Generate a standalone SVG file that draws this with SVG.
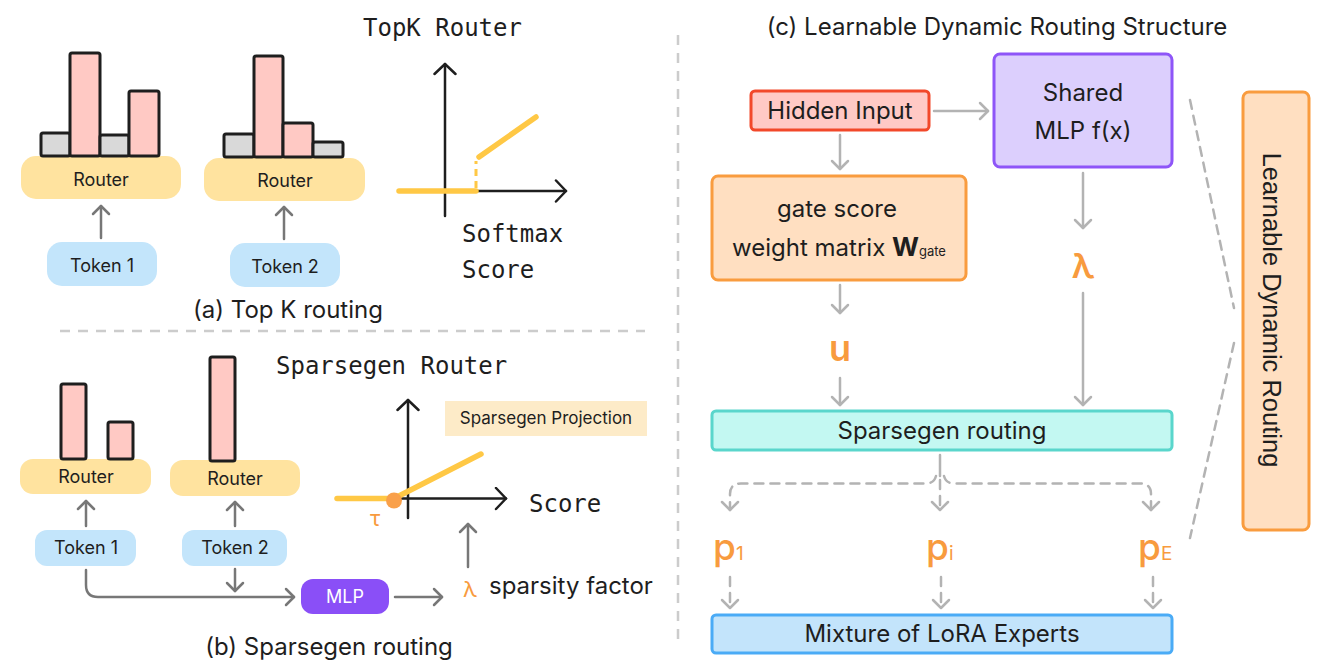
<svg xmlns="http://www.w3.org/2000/svg" width="1329" height="669" viewBox="0 0 1329 669">
<defs>
<style>
text{font-family:Inter,"Noto Sans",sans-serif;fill:#1e1e1e}
.mono{font-family:"DejaVu Sans Mono","Liberation Mono",monospace;font-size:24px}
.lbl{font-size:18px;text-anchor:middle}
.big{font-size:24px;text-anchor:middle}
.or{fill:#F89B3E;font-weight:600}
.router{fill:#FFE39F}
.token{fill:#C3E5FB}
.pink{fill:#FFC9C4;stroke:#1e1e1e;stroke-width:3}
.gray{fill:#D9D9D9;stroke:#1e1e1e;stroke-width:3}
.ag{fill:none;stroke:#777;stroke-width:2.5;stroke-linecap:round}
.al{fill:none;stroke:#B3B3B3;stroke-width:2.5;stroke-linecap:round}
.ax{fill:none;stroke:#1e1e1e;stroke-width:2.5;stroke-linecap:round}
.yl{fill:none;stroke:#FFC845;stroke-width:5.5;stroke-linecap:round}
.sep{fill:none;stroke:#CCCCCC;stroke-width:2.5;stroke-dasharray:10 8}
.dsh{stroke-dasharray:9 7}
</style>
<marker id="mg" viewBox="0 0 20 20" refX="10" refY="10" markerWidth="20" markerHeight="20" markerUnits="userSpaceOnUse" orient="auto"><path d="M2,2 L10,10 L2,18" fill="none" stroke="#777" stroke-width="2.5" stroke-linecap="round" stroke-linejoin="round"/></marker>
<marker id="ml" viewBox="0 0 20 20" refX="10" refY="10" markerWidth="20" markerHeight="20" markerUnits="userSpaceOnUse" orient="auto"><path d="M2,2 L10,10 L2,18" fill="none" stroke="#B3B3B3" stroke-width="2.5" stroke-linecap="round" stroke-linejoin="round"/></marker>
<marker id="mk" viewBox="0 0 24 24" refX="12" refY="12" markerWidth="24" markerHeight="24" markerUnits="userSpaceOnUse" orient="auto"><path d="M2,1.5 L12,12 L2,22.5" fill="none" stroke="#1e1e1e" stroke-width="2.5" stroke-linecap="round" stroke-linejoin="round"/></marker>
</defs>
<rect width="1329" height="669" fill="#ffffff"/>

<!-- separators -->
<g id="separators">
<line class="sep" x1="60" y1="331" x2="645" y2="331"/>
<line class="sep" x1="678" y1="35" x2="678" y2="640"/>
</g>

<!-- Panel (a) -->
<g id="a-router1">
<rect class="router" x="21" y="156" width="160" height="43" rx="15"/>
<rect class="gray" x="41" y="133" width="29" height="23" rx="2"/>
<rect class="pink" x="70" y="53" width="30" height="103" rx="2"/>
<rect class="gray" x="100" y="135" width="29" height="21" rx="2"/>
<rect class="pink" x="129" y="91" width="30" height="65" rx="2"/>
<text class="lbl" x="101" y="186">Router</text>
</g>
<g id="a-token1">
<rect class="token" x="47" y="242" width="110" height="44" rx="15"/>
<text class="lbl" x="102" y="272">Token 1</text>
</g>
<g id="a-router2">
<rect class="router" x="204" y="158" width="161" height="43" rx="15"/>
<rect class="gray" x="224" y="134" width="30" height="23" rx="2"/>
<rect class="pink" x="254" y="56" width="29" height="101" rx="2"/>
<rect class="pink" x="283" y="123" width="30" height="34" rx="2"/>
<rect class="gray" x="313" y="142" width="30" height="15" rx="2"/>
<text class="lbl" x="285" y="187">Router</text>
</g>
<g id="a-token2">
<rect class="token" x="230" y="243" width="110" height="44" rx="15"/>
<text class="lbl" x="285" y="273">Token 2</text>
</g>
<g id="a-chart">
<line class="ax" x1="445" y1="216" x2="445" y2="64" marker-end="url(#mk)"/>
<line class="ax" x1="445" y1="191" x2="566" y2="191" marker-end="url(#mk)"/>
<line class="yl" x1="399" y1="191" x2="476" y2="191"/>
<line x1="476" y1="188" x2="476" y2="161" stroke="#FFC845" stroke-width="3" stroke-dasharray="7 5"/>
<line class="yl" x1="479" y1="157" x2="536" y2="117"/>
<text class="mono" x="363" y="36">TopK Router</text>
<text class="mono" x="462" y="242">Softmax</text>
<text class="mono" x="462" y="278">Score</text>
</g>
<text id="a-caption" class="big" x="288" y="318">(a) Top K routing</text>

<!-- Panel (b) -->
<g id="b-router1">
<rect class="router" x="20" y="459" width="131" height="35" rx="13"/>
<rect class="pink" x="61" y="384" width="25" height="75" rx="2"/>
<rect class="pink" x="108" y="422" width="25" height="37" rx="2"/>
<text class="lbl" x="86" y="483">Router</text>
</g>
<g id="b-token1">
<rect class="token" x="35" y="530" width="101" height="36" rx="12"/>
<text class="lbl" x="86" y="554">Token 1</text>
</g>
<g id="b-router2">
<rect class="router" x="170" y="460" width="130" height="36" rx="13"/>
<rect class="pink" x="210" y="357" width="25" height="104" rx="2"/>
<text class="lbl" x="235" y="485">Router</text>
</g>
<g id="b-token2">
<rect class="token" x="182" y="530" width="105" height="36" rx="12"/>
<text class="lbl" x="235" y="554">Token 2</text>
</g>
<g id="b-mlp">
<rect x="301" y="579" width="88" height="35" rx="12" fill="#8A4FF7"/>
<text class="lbl" x="345" y="603" style="fill:#ffffff">MLP</text>
</g>
<g id="b-chart">
<line class="ax" x1="408" y1="518" x2="408" y2="400" marker-end="url(#mk)"/>
<line class="ax" x1="392" y1="498.5" x2="506" y2="498.5" marker-end="url(#mk)"/>
<line class="yl" x1="337" y1="498.5" x2="393" y2="498.5"/>
<line class="yl" x1="394" y1="498.5" x2="481" y2="454"/>
<circle cx="394" cy="500.5" r="8" fill="#F9A04A"/>
<text x="375" y="526" style="font-size:22px;text-anchor:middle;fill:#F89B3E">τ</text>
<text class="mono" x="276" y="374">Sparsegen Router</text>
<text class="mono" x="529" y="512">Score</text>
</g>
<g id="b-projection">
<rect x="445" y="401" width="202" height="35" fill="#FDEBC8"/>
<text x="546" y="424" style="font-size:17px;text-anchor:middle">Sparsegen Projection</text>
</g>
<g id="b-lambda">
<text x="470" y="597" style="font-size:22px;text-anchor:middle;fill:#F89B3E">λ</text>
<text x="489" y="594" style="font-size:24px">sparsity factor</text>
</g>
<text id="b-caption" class="big" x="329" y="655">(b) Sparsegen routing</text>

<!-- Panel (c) -->
<text id="c-title" class="big" x="997" y="35">(c) Learnable Dynamic Routing Structure</text>
<g id="c-hidden">
<rect x="751" y="91" width="178" height="39" rx="4" fill="#FFC9C5" stroke="#F2482A" stroke-width="3"/>
<text class="big" x="840" y="119">Hidden Input</text>
</g>
<g id="c-shared">
<rect x="994" y="54" width="178" height="113" rx="6" fill="#DCCFFD" stroke="#8E55F8" stroke-width="3"/>
<text class="big" x="1083" y="101">Shared</text>
<text class="big" x="1083" y="139">MLP f(x)</text>
</g>
<g id="c-gate">
<rect x="712" y="176" width="254" height="104" rx="6" fill="#FFDFC1" stroke="#F99C3F" stroke-width="3"/>
<text class="big" x="837" y="217">gate score</text>
<text class="big" x="839" y="256">weight matrix <tspan style="font-weight:700;font-size:26px">W</tspan><tspan style="font-size:13px">gate</tspan></text>
</g>
<text id="c-u" class="or" x="840" y="361" style="font-size:36px;text-anchor:middle">u</text>
<text id="c-lambda" class="or" x="1083" y="278" style="font-size:34px;text-anchor:middle">λ</text>
<g id="c-sparsegen">
<rect x="712" y="411" width="460" height="39" rx="4" fill="#C3F8F2" stroke="#5AD6CC" stroke-width="3"/>
<text class="big" x="942" y="439">Sparsegen routing</text>
</g>
<g id="c-p">
<text class="or" x="713" y="560" style="font-size:37px;font-weight:500">p<tspan style="font-size:19px;font-weight:400">1</tspan></text>
<text class="or" x="926" y="560" style="font-size:37px;font-weight:500">p<tspan style="font-size:19px;font-weight:400">i</tspan></text>
<text class="or" x="1138" y="560" style="font-size:37px;font-weight:500">p<tspan style="font-size:19px;font-weight:400">E</tspan></text>
</g>
<g id="c-mixture">
<rect x="712" y="615" width="460" height="38" rx="4" fill="#C3E4FB" stroke="#4AABF6" stroke-width="3"/>
<text class="big" x="942" y="642">Mixture of LoRA Experts</text>
</g>
<g id="c-learnable">
<rect x="1243" y="92" width="66" height="438" rx="6" fill="#FFDFC1" stroke="#F99C3F" stroke-width="3"/>
<text transform="translate(1263,310) rotate(90)" style="font-family:'Liberation Sans',Arial,sans-serif;font-size:25.5px;text-anchor:middle">Learnable Dynamic Routing</text>
</g>

<!-- connectors -->
<g id="connectors">
<line class="ag" x1="101" y1="238" x2="101" y2="206" marker-end="url(#mg)"/>
<line class="ag" x1="284" y1="239" x2="284" y2="207" marker-end="url(#mg)"/>
<line class="ag" x1="86" y1="526" x2="86" y2="501" marker-end="url(#mg)"/>
<line class="ag" x1="235" y1="526" x2="235" y2="502" marker-end="url(#mg)"/>
<line class="ag" x1="235" y1="569" x2="235" y2="591" marker-end="url(#mg)"/>
<path class="ag" d="M86,570 L86,585 Q86,597 98,597 L294,597" marker-end="url(#mg)"/>
<line class="ag" x1="395" y1="597" x2="442" y2="597" marker-end="url(#mg)"/>
<line class="ag" x1="468" y1="567" x2="468" y2="524" marker-end="url(#mg)"/>

<line class="al" x1="934" y1="111" x2="988" y2="111" marker-end="url(#ml)"/>
<line class="al" x1="840" y1="135" x2="840" y2="169" marker-end="url(#ml)"/>
<line class="al" x1="840" y1="285" x2="840" y2="313" marker-end="url(#ml)"/>
<line class="al" x1="840" y1="378" x2="840" y2="405" marker-end="url(#ml)"/>
<line class="al" x1="1083" y1="173" x2="1083" y2="228" marker-end="url(#ml)"/>
<line class="al" x1="1083" y1="293" x2="1083" y2="405" marker-end="url(#ml)"/>

<line class="al" x1="940" y1="455" x2="940" y2="476"/>
<line class="al dsh" x1="940" y1="480" x2="940" y2="510" marker-end="url(#ml)"/>
<path class="al dsh" d="M936,476 Q934,483.5 926,483.5 L741,483.5 Q730,483.5 730,494 L730,510" marker-end="url(#ml)"/>
<path class="al dsh" d="M944,476 Q946,483.5 954,483.5 L1140,483.5 Q1151,483.5 1151,494 L1151,510" marker-end="url(#ml)"/>

<line class="al dsh" x1="730" y1="577" x2="730" y2="608" marker-end="url(#ml)"/>
<line class="al dsh" x1="941" y1="577" x2="941" y2="608" marker-end="url(#ml)"/>
<line class="al dsh" x1="1153" y1="577" x2="1153" y2="608" marker-end="url(#ml)"/>

<line class="al dsh" x1="1190" y1="100" x2="1234" y2="308"/>
<line class="al dsh" x1="1234" y1="343" x2="1190" y2="538"/>
</g>
</svg>
